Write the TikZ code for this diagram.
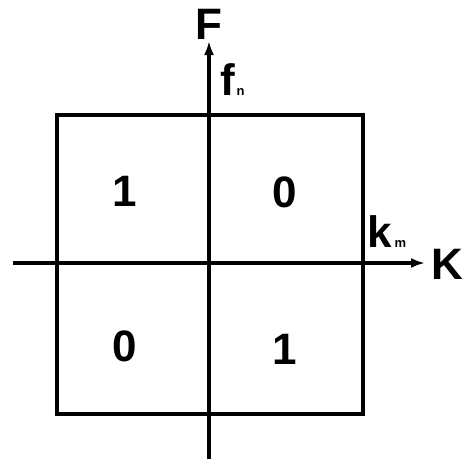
\documentclass[tikz,border=0pt]{standalone}
\usepackage{fontspec}
\setmainfont{Liberation Sans}
\usetikzlibrary{arrows.meta,positioning}

\begin{document}
\begin{tikzpicture}[
	x=1pt, y=-1pt,
	ln/.style={line width=3.4pt},
	arr/.style={ln, -{Latex[length=14pt,width=10pt]}},
	lbl/.style={font=\fontsize{44}{44}\selectfont\bfseries, inner sep=0pt},
	sub/.style={font=\fontsize{13}{13}\selectfont\bfseries, inner sep=0pt}
	]
	\useasboundingbox (0,0) rectangle (471,459);
	% square
	\coordinate (tl) at (57,115);
	\coordinate (br) at (363,414);
	\draw[ln] (tl) rectangle (br);
	% axes
	\coordinate (xs) at (13,263);
	\coordinate (xe) at (425,263);
	\coordinate (ys) at (209,459);
	\coordinate (ye) at (209,41);
	\draw[arr] (xs) -- (xe);
	\draw[arr] (ys) -- (ye);
	% axis labels
	\node[lbl] (F) at (209,24) {F};
	\node[lbl] (K) at (447,264) {K};
	\node[lbl] (f) at (228,80) {f};
	\node[sub, right=1pt of f.south east, anchor=south west] (n) {n};
	\node[lbl] (k) at (380,232) {k};
	\node[sub, right=2pt of k.south east, anchor=south west] (m) {m};
	% quadrant values
	\node[lbl] (q1) at (125,191) {1};
	\node[lbl] (q2) at (285,192) {0};
	\node[lbl] (q3) at (125,346) {0};
	\node[lbl] (q4) at (285,349) {1};
\end{tikzpicture}
\end{document}
